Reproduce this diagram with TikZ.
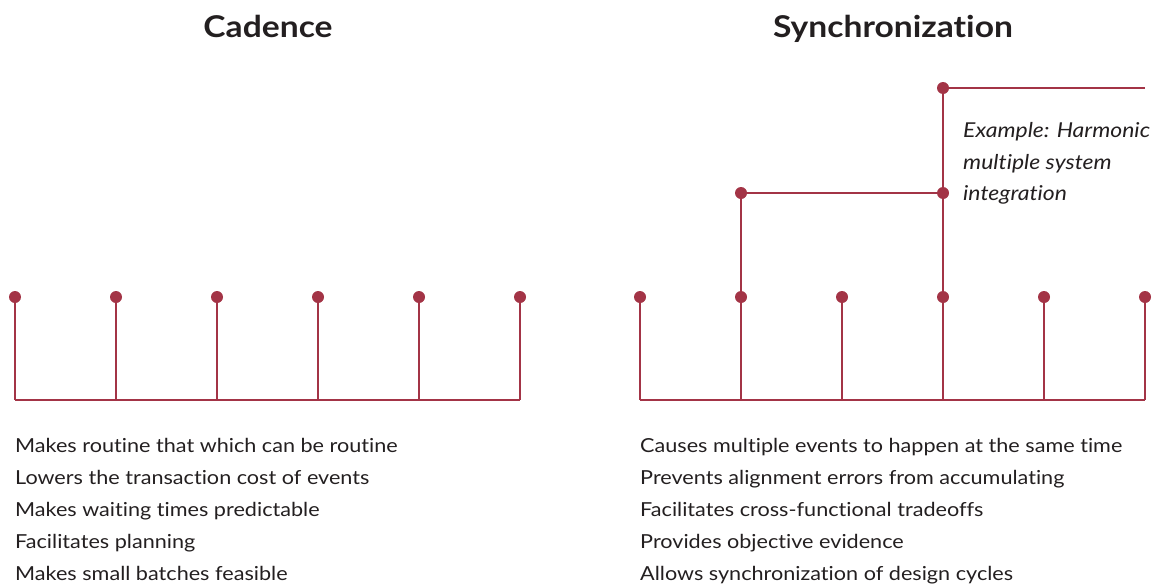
\documentclass[tikz,border=0pt]{standalone}
\usepackage{fontspec}
\setmainfont{Lato}[FakeStretch=1.12,Ligatures={NoCommon,NoRare}]
\definecolor{wine}{RGB}{163,52,70}
\definecolor{ink}{RGB}{35,31,32}
\begin{document}
\begin{tikzpicture}[x=1pt,y=-1pt,
  rail/.style={draw=wine,line width=2.6pt},
  dot/.style={circle,fill=wine,inner sep=0pt,minimum size=12pt},
  title/.style={font=\fontsize{30}{36}\selectfont\bfseries,text=ink,anchor=base},
  item/.style={font=\fontsize{19.3}{23}\selectfont,text=ink,anchor=base west,inner sep=0pt},
  note/.style={font=\fontsize{20.5}{24}\selectfont\itshape,text=ink,anchor=base west,inner sep=0pt}]
\useasboundingbox (0,0) rectangle (1156,584);

% titles
\node[title] (tc) at (268,37) {Cadence};
\node[title] (ts) at (893,37) {Synchronization};

% cadence: evenly spaced events on one time line
\foreach \i/\x in {1/15,2/116,3/217,4/318,5/419,6/520} {
  \coordinate (cb\i) at (\x,400);
  \node[dot] (c\i) at (\x,297) {};
}
\draw[rail] (cb1) -- (cb6);
\foreach \i in {1,...,6} \draw[rail] (c\i.center) -- (cb\i);

% synchronization: events joined into higher-level integration points
\foreach \i/\x in {1/640,2/741,3/842,4/943,5/1044,6/1145} {
  \coordinate (sb\i) at (\x,400);
  \node[dot] (s\i) at (\x,297) {};
}
\draw[rail] (sb1) -- (sb6);
\foreach \i in {1,...,6} \draw[rail] (s\i.center) -- (sb\i);
\node[dot] (m1) at (741,193) {};
\node[dot] (m2) at (943,193) {};
\node[dot] (h1) at (943,88) {};
\coordinate (hend) at (1145,88);
\draw[rail] (s2.center) -- (m1.center) -- (m2.center);
\draw[rail] (s4.center) -- (h1.center) -- (hend);

\node[note] (n1) at (963,137) {Example: Harmonic};
\node[note] (n2) at (963,169) {multiple system};
\node[note] (n3) at (963,200) {integration};

% benefits
\node[item] (l1) at (15,452) {Makes routine that which can be routine};
\node[item] (l2) at (15,484) {Lowers the transaction cost of events};
\node[item] (l3) at (15,516) {Makes waiting times predictable};
\node[item] (l4) at (15,548) {Facilitates planning};
\node[item] (l5) at (15,580) {Makes small batches feasible};

\node[item] (r1) at (640,452) {Causes multiple events to happen at the same time};
\node[item] (r2) at (640,484) {Prevents alignment errors from accumulating};
\node[item] (r3) at (640,516) {Facilitates cross-functional tradeoffs};
\node[item] (r4) at (640,548) {Provides objective evidence};
\node[item] (r5) at (640,580) {Allows synchronization of design cycles};
\end{tikzpicture}
\end{document}
